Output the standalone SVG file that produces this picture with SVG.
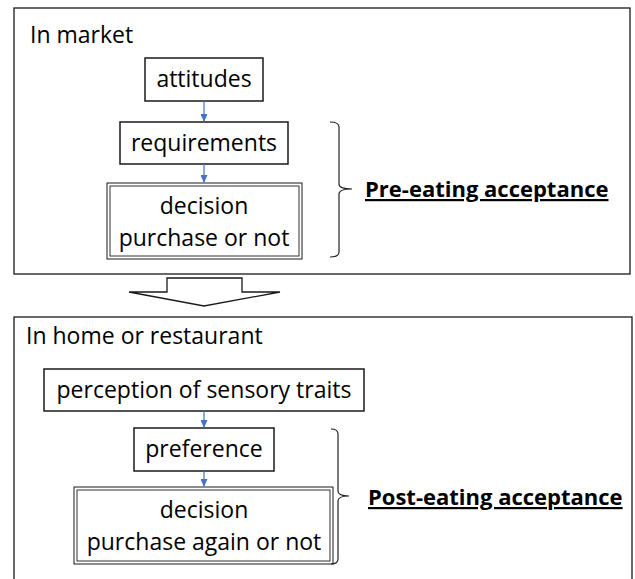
<svg xmlns="http://www.w3.org/2000/svg" width="635" height="579" viewBox="0 0 635 579">
<style>
  .frame{fill:#fff;stroke:#1a1a1a;stroke-width:1.3}
  .box{fill:#fff;stroke:#1a1a1a;stroke-width:1.5}
  .dbl{fill:none;stroke:#333;stroke-width:1}
  .t{font-family:"Open Sans","Noto Sans",sans-serif;font-size:23px;fill:#000}
  .c{text-anchor:middle}
  .lbl{font-family:"Open Sans","Noto Sans",sans-serif;font-size:22px;font-weight:bold;fill:#000;text-decoration:underline}
  .conn{stroke:#4472C4;stroke-width:1.2;fill:none}
  .brace{fill:none;stroke:#222;stroke-width:1.2}
</style>
<defs>
  <marker id="ah" markerWidth="8" markerHeight="7" refX="7" refY="3.5" orient="auto" markerUnits="userSpaceOnUse">
    <path d="M0,0 L8,3.5 L0,7 Z" fill="#4472C4"/>
  </marker>
</defs>
<rect width="635" height="579" fill="#fff"/>

<g id="market">
  <rect class="frame" x="14" y="8" width="616" height="266"/>
  <text class="t" x="30" y="43">In market</text>
</g>
<g id="home">
  <rect class="frame" x="14" y="317" width="618" height="270"/>
  <text class="t" x="26" y="344">In home or restaurant</text>
</g>

<g id="attitudes">
  <rect class="box" x="145" y="58" width="118" height="43"/>
  <text class="t c" x="204" y="87">attitudes</text>
</g>
<g id="requirements">
  <rect class="box" x="120" y="122" width="168" height="42"/>
  <text class="t c" x="204" y="151">requirements</text>
</g>
<g id="decision1">
  <rect class="box" x="107" y="183" width="195" height="76" style="stroke-width:1"/>
  <rect class="dbl" x="110" y="186" width="189" height="70"/>
  <text class="t c" x="204" y="214">decision</text>
  <text class="t c" x="204" y="246">purchase or not</text>
</g>

<g id="perception">
  <rect class="box" x="44" y="369" width="320" height="42"/>
  <text class="t c" x="204" y="398">perception of sensory traits</text>
</g>
<g id="preference">
  <rect class="box" x="134" y="428" width="140" height="43"/>
  <text class="t c" x="204" y="457">preference</text>
</g>
<g id="decision2">
  <rect class="box" x="74" y="487" width="259" height="77" style="stroke-width:1"/>
  <rect class="dbl" x="77" y="490" width="253" height="71"/>
  <text class="t c" x="204" y="518">decision</text>
  <text class="t c" x="204" y="550">purchase again or not</text>
</g>

<g id="pre-eating">
  <path class="brace" d="M330,122 Q339,122 339,127 L339,184 Q339,189 352,189 Q339,189 339,194 L339,252 Q339,257 330,257"/>
  <text class="lbl" x="365" y="197">Pre-eating acceptance</text>
</g>
<g id="post-eating">
  <path class="brace" d="M331,429 Q338,429 338,434 L338,491 Q338,496 349,496 Q338,496 338,501 L338,559 Q338,564 331,564"/>
  <text class="lbl" x="368" y="505">Post-eating acceptance</text>
</g>

<g id="big-arrow">
  <path d="M167,278 L242,278 L242,292 L280,292 L204,306 L129,292 L167,292 Z" fill="#fff" stroke="#1a1a1a" stroke-width="1.3"/>
</g>

<g id="connectors">
  <line class="conn" x1="204" y1="101" x2="204" y2="121" marker-end="url(#ah)"/>
  <line class="conn" x1="204" y1="164" x2="204" y2="182" marker-end="url(#ah)"/>
  <line class="conn" x1="204" y1="411" x2="204" y2="427" marker-end="url(#ah)"/>
  <line class="conn" x1="204" y1="471" x2="204" y2="486" marker-end="url(#ah)"/>
</g>
</svg>
